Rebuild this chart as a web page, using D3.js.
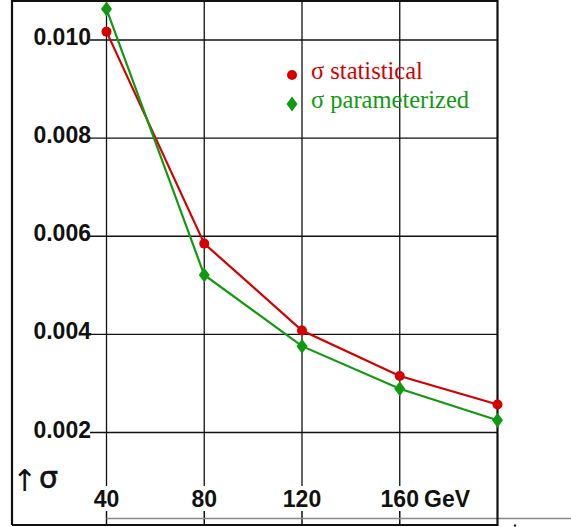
<!DOCTYPE html>
<html>
<head>
<meta charset="utf-8">
<script src="https://cdn.jsdelivr.net/npm/d3@7"></script>
<style>
  body { margin: 0; background: #fff; }
  svg { display: block; }
</style>
</head>
<body>
<div id="plotarea"></div>
<script>
// data
var energies = [40, 80, 120, 160, 200];
var sigmaStat = [0.01017, 0.00585, 0.00408, 0.00315, 0.00257];
var sigmaParam = [0.01063, 0.00521, 0.00376, 0.00289, 0.00225];
var xTicks = [40, 80, 120, 160];
var yTicks = [0.010, 0.008, 0.006, 0.004, 0.002];
var yTickLabels = ["0.010", "0.008", "0.006", "0.004", "0.002"];
var legendLabels = ["σ statistical", "σ parameterized"];

var width = 571, height = 527;
var red = "#d40000", green = "#119a11";

var svg = d3.select("#plotarea")
  .append("svg")
    .attr("width", width)
    .attr("height", height);

var x = d3.scaleLinear()
  .domain([40, 200])
  .range([106.5, 497.5]);

var y = d3.scaleLinear()
  .domain([0.002, 0.010])
  .range([432.5, 40]);

// horizontal grid lines
svg.append("g")
  .selectAll("line")
  .data(yTicks)
  .enter()
  .append("line")
    .attr("x1", 90)
    .attr("x2", 497.5)
    .attr("y1", function (d) { return y(d); })
    .attr("y2", function (d) { return y(d); })
    .style("stroke", "#111")
    .style("stroke-width", 1.3);

// vertical grid lines
svg.append("g")
  .selectAll("line")
  .data(xTicks)
  .enter()
  .append("line")
    .attr("x1", function (d) { return x(d); })
    .attr("x2", function (d) { return x(d); })
    .attr("y1", 0)
    .attr("y2", 486)
    .style("stroke", "#111")
    .style("stroke-width", 1.3);

// bottom ticks
svg.append("g")
  .selectAll("line")
  .data(xTicks)
  .enter()
  .append("line")
    .attr("x1", function (d) { return x(d); })
    .attr("x2", function (d) { return x(d); })
    .attr("y1", 511)
    .attr("y2", 524)
    .style("stroke", "#111")
    .style("stroke-width", 1.5);

// thin grey axis line under the labels
svg.append("line")
  .attr("x1", x(40)).attr("x2", width)
  .attr("y1", 518.5).attr("y2", 518.5)
  .style("stroke", "#888")
  .style("stroke-width", 1.3);

// frame
svg.append("path")
  .attr("d", "M12,525V1H497.5V525H12")
  .style("fill", "none")
  .style("stroke", "#111")
  .style("stroke-width", 2.2);

svg.append("circle")
  .attr("cx", 515).attr("cy", 525.5).attr("r", 1.2)
  .style("fill", "#222");

// y tick labels
svg.append("g")
  .selectAll("text")
  .data(yTicks)
  .enter()
  .append("text")
    .attr("x", 91)
    .attr("y", function (d) { return y(d) + 5; })
    .attr("text-anchor", "end")
    .style("font-family", "Liberation Sans, Arial, sans-serif")
    .style("font-size", "23px")
    .style("font-weight", "bold")
    .style("fill", "#111")
    .text(function (d, i) { return yTickLabels[i]; });

// x tick labels
svg.append("g")
  .selectAll("text")
  .data(xTicks)
  .enter()
  .append("text")
    .attr("x", function (d) { return x(d); })
    .attr("y", 507)
    .attr("text-anchor", "middle")
    .style("font-family", "Liberation Sans, Arial, sans-serif")
    .style("font-size", "23px")
    .style("font-weight", "bold")
    .style("fill", "#111")
    .text(function (d) { return d; });

svg.append("text")
  .attr("x", 424)
  .attr("y", 507)
  .style("font-family", "Liberation Sans, Arial, sans-serif")
  .style("font-size", "23px")
  .style("font-weight", "bold")
  .style("fill", "#111")
  .text("GeV");

// "↑ σ" axis hint
svg.append("text")
  .attr("x", 12)
  .attr("y", 491)
  .style("font-family", "DejaVu Sans, sans-serif")
  .style("font-size", "30px")
  .style("fill", "#111")
  .text("↑");
svg.append("text")
  .attr("x", 39)
  .attr("y", 488)
  .style("font-family", "DejaVu Sans, sans-serif")
  .style("font-size", "30px")
  .style("fill", "#111")
  .style("stroke", "#111")
  .style("stroke-width", 0.6)
  .text("σ");

// series lines
var line = d3.line()
  .x(function (d) { return x(d[0]); })
  .y(function (d) { return y(d[1]); });

var statPts = energies.map(function (e, i) { return [e, sigmaStat[i]]; });
var paramPts = energies.map(function (e, i) { return [e, sigmaParam[i]]; });

svg.append("path")
  .datum(statPts)
  .attr("d", line)
  .style("fill", "none")
  .style("stroke", red)
  .style("stroke-width", 2.2);

svg.append("path")
  .datum(paramPts)
  .attr("d", line)
  .style("fill", "none")
  .style("stroke", green)
  .style("stroke-width", 2.2);

var diamond = "M0,-7.5L5.5,0L0,7.5L-5.5,0Z";

svg.append("g")
  .selectAll("circle")
  .data(statPts)
  .enter()
  .append("circle")
    .attr("cx", function (d) { return x(d[0]); })
    .attr("cy", function (d) { return y(d[1]); })
    .attr("r", 5)
    .style("fill", red);

svg.append("g")
  .selectAll("path")
  .data(paramPts)
  .enter()
  .append("path")
    .attr("d", diamond)
    .attr("transform", function (d) { return "translate(" + x(d[0]) + "," + y(d[1]) + ")"; })
    .style("fill", green);

// legend
var legend = svg.append("g");
legend.append("circle")
  .attr("cx", 292).attr("cy", 75).attr("r", 5)
  .style("fill", red);
legend.append("path")
  .attr("d", diamond)
  .attr("transform", "translate(292,104)")
  .style("fill", green);
legend.selectAll("text")
  .data(legendLabels)
  .enter()
  .append("text")
    .attr("x", 311)
    .attr("y", function (d, i) { return 79 + i * 29; })
    .style("font-family", "Liberation Serif, Times New Roman, serif")
    .style("font-size", "24.5px")
    .style("fill", function (d, i) { return i === 0 ? red : green; })
    .text(function (d) { return d; });
</script>
</body>
</html>
